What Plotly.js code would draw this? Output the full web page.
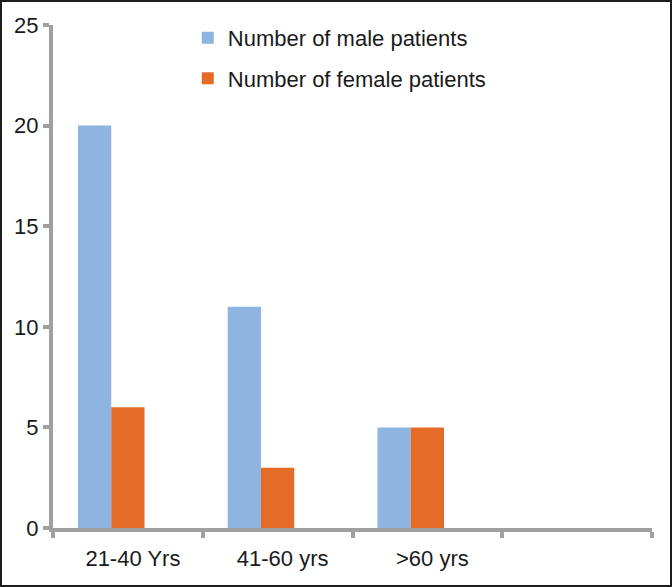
<!DOCTYPE html>
<html>
<head>
<meta charset="utf-8">
<script src="https://cdn.plot.ly/plotly-3.0.1.min.js"></script>
<style>
  html, body { margin: 0; padding: 0; background: #fff; }
  #wrap { position: relative; width: 672px; height: 587px; }
  #chart { width: 672px; height: 587px; }
  #frame { position: absolute; left: 0; top: 0; width: 672px; height: 587px; box-sizing: border-box; border: 2px solid #1e1e1e; pointer-events: none; }
</style>
</head>
<body>
<div id="wrap"><div id="chart"></div><div id="frame"></div></div>
<script>
const categories = ['21-40 Yrs', '41-60 yrs', '>60 yrs', ' '];
const maleValues = [20, 11, 5, null];
const femaleValues = [6, 3, 5, null];
const seriesNames = ['Number of male patients', 'Number of female patients'];
const yTicks = [0, 5, 10, 15, 20, 25];

const axisGray = '#a0a0a0';
const textColor = '#1a1a1a';
const font = { family: 'Liberation Sans, Arial, sans-serif', size: 22, color: textColor };

const traces = [
  { type: 'bar', name: seriesNames[0], x: categories, y: maleValues,
    marker: { color: '#8eb4e2' }, width: 0.2222, offset: -0.3333, legendgroup: 'a', hoverinfo: 'y' },
  { type: 'bar', name: seriesNames[1], x: categories, y: femaleValues,
    marker: { color: '#e46c28' }, width: 0.2222, offset: -0.1111, legendgroup: 'b', hoverinfo: 'y' }
];

const layout = {
  width: 672, height: 587,
  margin: { l: 53, r: 20, t: 25, b: 59 },
  paper_bgcolor: '#fff', plot_bgcolor: '#fff',
  font: font,
  showlegend: true,
  legend: { x: 0.225, y: 1.016, xanchor: 'left', yanchor: 'top', bgcolor: 'rgba(0,0,0,0)',
            font: font, traceorder: 'grouped', tracegroupgap: 9 },
  xaxis: {
    type: 'category', categoryarray: categories, categoryorder: 'array',
    range: [-0.5, 3.5], fixedrange: true,
    showline: true, linecolor: axisGray, linewidth: 4,
    ticks: 'outside', tickson: 'boundaries', ticklen: 6, tickwidth: 4, tickcolor: axisGray,
    showgrid: false, zeroline: false, tickfont: font, ticklabelshift: 5, ticklabelstandoff: 8
  },
  yaxis: {
    range: [0, 25], tickvals: yTicks, fixedrange: true,
    showline: true, linecolor: axisGray, linewidth: 4,
    ticks: 'outside', ticklen: 6, tickwidth: 4, tickcolor: axisGray,
    showgrid: false, zeroline: false, tickfont: font
  }
};

Plotly.newPlot('chart', traces, layout, { displayModeBar: false, staticPlot: true });
</script>
</body>
</html>
